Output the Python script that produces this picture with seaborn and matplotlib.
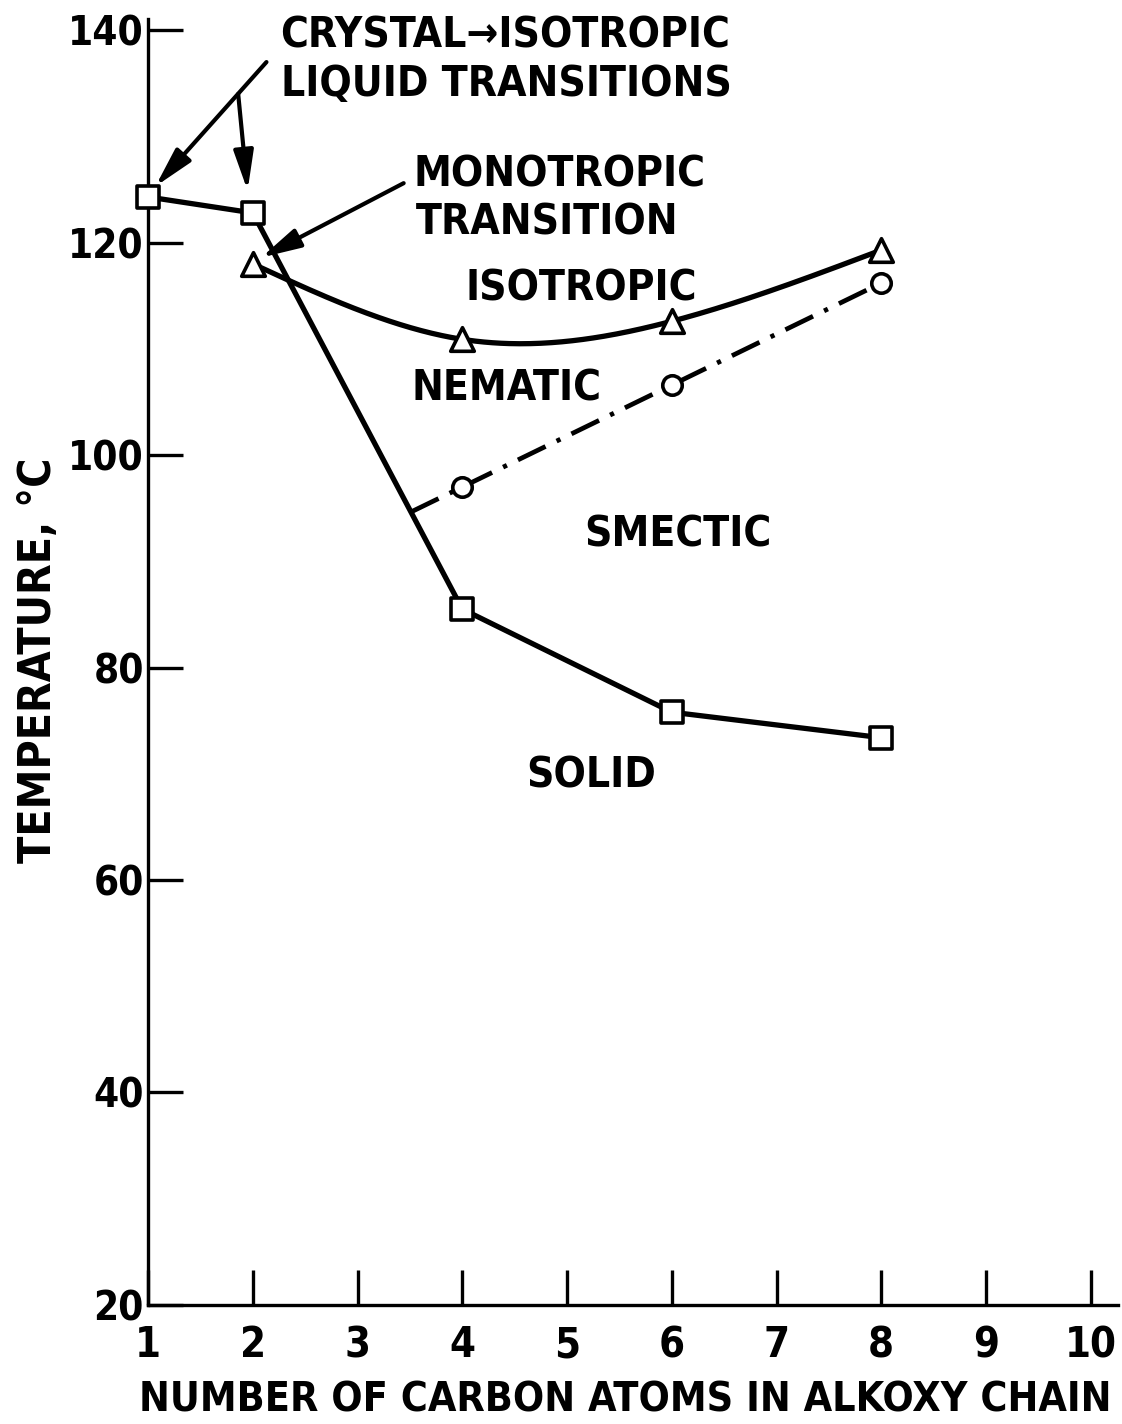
import numpy as np
import pandas as pd
import matplotlib
matplotlib.use("Agg")
import matplotlib.pyplot as plt
import seaborn as sns

# Crystal -> mesophase / isotropic melting points (squares)
carbons_melt = [1, 2, 4, 6, 8]
temp_melt = [124.3, 122.8, 85.5, 75.8, 73.4]

# Nematic -> isotropic clearing points (triangles)
carbons_clear = [2, 4, 6, 8]
temp_clear = [118.0, 110.9, 112.6, 119.3]

# Smectic -> nematic transitions (circles)
carbons_smectic = [4, 6, 8]
temp_smectic = [97.0, 106.6, 116.2]

x_ticks = [1, 2, 3, 4, 5, 6, 7, 8, 9, 10]
y_ticks = [20, 40, 60, 80, 100, 120, 140]

sns.set_style("ticks")
plt.rcParams["font.family"] = ["DejaVu Sans"]
plt.rcParams["font.stretch"] = "condensed"
plt.rcParams["font.weight"] = "bold"
plt.rcParams["text.color"] = "black"
plt.rcParams["axes.labelcolor"] = "black"


def natural_spline(xk, yk, n=300):
    """Smooth natural cubic spline through the given points (for drawing)."""
    xk = np.asarray(xk, float)
    yk = np.asarray(yk, float)
    k = len(xk)
    h = np.diff(xk)
    A = np.zeros((k, k))
    r = np.zeros(k)
    A[0, 0] = A[-1, -1] = 1.0
    for i in range(1, k - 1):
        A[i, i - 1] = h[i - 1]
        A[i, i] = 2 * (h[i - 1] + h[i])
        A[i, i + 1] = h[i]
        r[i] = 3 * ((yk[i + 1] - yk[i]) / h[i] - (yk[i] - yk[i - 1]) / h[i - 1])
    c = np.linalg.solve(A, r)
    xs = np.linspace(xk[0], xk[-1], n)
    idx = np.clip(np.searchsorted(xk, xs) - 1, 0, k - 2)
    dx = xs - xk[idx]
    b = (yk[idx + 1] - yk[idx]) / h[idx] - h[idx] * (2 * c[idx] + c[idx + 1]) / 3
    d = (c[idx + 1] - c[idx]) / (3 * h[idx])
    ys = yk[idx] + b * dx + c[idx] * dx ** 2 + d * dx ** 3
    return xs, ys


fig = plt.figure(figsize=(11.22, 14.24), dpi=100)
ax = fig.add_axes([0.132, 0.0836, 0.8644, 0.9034])

LW = 3.8

# melting curve: straight segments between the squares
melt_df = pd.DataFrame({"n": carbons_melt, "T": temp_melt})
sns.lineplot(data=melt_df, x="n", y="T", ax=ax, color="black", lw=LW,
             sort=False, zorder=2)

# clearing curve: smooth line through the triangles
xs, ys = natural_spline(carbons_clear, temp_clear)
sns.lineplot(x=xs, y=ys, ax=ax, color="black", lw=LW, sort=False, zorder=2)

# smectic line, extended back to where it meets the melting curve (n = 2..4)
s_sm = (temp_smectic[1] - temp_smectic[0]) / (carbons_smectic[1] - carbons_smectic[0])
s_me = (temp_melt[2] - temp_melt[1]) / (carbons_melt[2] - carbons_melt[1])
x_start = carbons_smectic[0] + (temp_melt[2] - temp_smectic[0]) / (s_sm - s_me)
y_start = temp_smectic[0] + s_sm * (x_start - carbons_smectic[0])
sm_x = [x_start] + carbons_smectic
sm_y = [y_start] + temp_smectic
sns.lineplot(x=sm_x, y=sm_y, ax=ax, color="black", lw=3.4, sort=False,
             linestyle=(0, (6.5, 2.6, 0.9, 2.6)), zorder=2)

# open markers on top of the lines
sns.scatterplot(x=carbons_melt, y=temp_melt, ax=ax, marker="s", s=15.5 ** 2,
                facecolor="white", edgecolor="black", linewidth=2.6,
                zorder=4, clip_on=False)
sns.scatterplot(x=carbons_clear, y=temp_clear, ax=ax, marker="^", s=17 ** 2,
                facecolor="white", edgecolor="black", linewidth=2.6,
                zorder=4, clip_on=False)
sns.scatterplot(x=carbons_smectic, y=temp_smectic, ax=ax, marker="o", s=14 ** 2,
                facecolor="white", edgecolor="black", linewidth=2.6,
                zorder=4, clip_on=False)

# axes, inward ticks, left/bottom spines only
ax.set_xlim(1, 10.26)
ax.set_ylim(20, 141.1)
ax.set_xticks(x_ticks)
ax.set_yticks(y_ticks)
ax.set_xticklabels([str(v) for v in x_ticks])
ax.set_yticklabels([str(v) for v in y_ticks])
for side in ("top", "right"):
    ax.spines[side].set_visible(False)
for side in ("left", "bottom"):
    ax.spines[side].set_linewidth(2.4)
    ax.spines[side].set_color("black")
ax.tick_params(axis="both", direction="in", length=25, width=2.4,
               color="black", labelcolor="black")
ax.tick_params(axis="x", pad=14, labelsize=30)
ax.tick_params(axis="y", pad=3, labelsize=29)
for lab in ax.get_xticklabels() + ax.get_yticklabels():
    lab.set_fontweight("bold")

ax.set_xlabel("NUMBER OF CARBON ATOMS IN ALKOXY CHAIN", fontsize=29.5,
              fontweight="bold", va="center")
ax.xaxis.set_label_coords(0.492, -0.074)
ax.set_ylabel("TEMPERATURE, °C", fontsize=32, fontweight="bold", va="center")
ax.yaxis.set_label_coords(-0.113, 0.501)

# phase region labels
txt = dict(fontsize=30.5, fontweight="bold", color="black", va="center")
ax.text(5.14, 115.7, "ISOTROPIC", ha="center", **txt)
ax.text(4.42, 106.3, "NEMATIC", ha="center", **txt)
ax.text(6.06, 92.5, "SMECTIC", ha="center", **txt)
ax.text(5.23, 69.8, "SOLID", ha="center", **txt)

# callouts
ax.text(2.26, 139.5, "CRYSTAL\u2192ISOTROPIC", ha="left", **txt)
ax.text(2.27, 134.9, "LIQUID TRANSITIONS", ha="left", **txt)
ax.text(3.53, 126.4, "MONOTROPIC", ha="left", **txt)
ax.text(3.56, 121.9, "TRANSITION", ha="left", **txt)

arrow = dict(arrowstyle="-|>,head_length=1.2,head_width=0.3", lw=3,
             color="black", shrinkA=0, shrinkB=0, mutation_scale=20)
ax.annotate("", xy=(1.07, 125.3), xytext=(2.13, 137.0), arrowprops=arrow,
            annotation_clip=False)
ax.annotate("", xy=(1.95, 124.9), xytext=(1.86, 134.0), arrowprops=arrow)
ax.annotate("", xy=(2.08, 118.6), xytext=(3.44, 125.6), arrowprops=arrow)

fig.savefig("out.png", dpi=100, facecolor="white")
